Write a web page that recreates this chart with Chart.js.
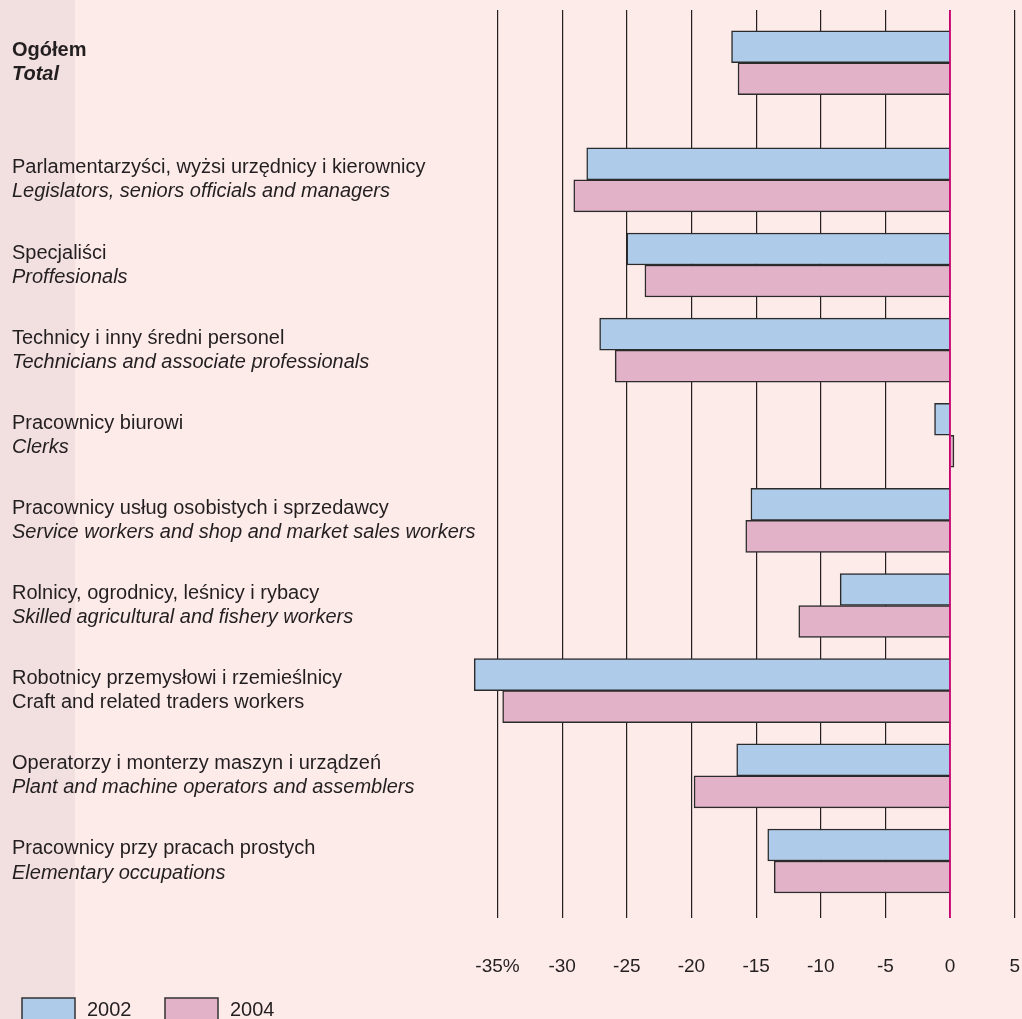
<!DOCTYPE html>
<html>
<head>
<meta charset="utf-8">
<script src="https://cdn.jsdelivr.net/npm/chart.js@4"></script>
<style>
  html, body { margin: 0; padding: 0; background: #fdebea; }
  canvas { display: block; }
</style>
</head>
<body>
<canvas id="chart" width="1022" height="1019"></canvas>
<script>
// occupations (Polish label, English label) and change in % for two years
const categoriesPl = [
  "Ogółem",
  "Parlamentarzyści, wyżsi urzędnicy i kierownicy",
  "Specjaliści",
  "Technicy i inny średni personel",
  "Pracownicy biurowi",
  "Pracownicy usług osobistych i sprzedawcy",
  "Rolnicy, ogrodnicy, leśnicy i rybacy",
  "Robotnicy przemysłowi i rzemieślnicy",
  "Operatorzy i monterzy maszyn i urządzeń",
  "Pracownicy przy pracach prostych"
];
const categoriesEn = [
  "Total",
  "Legislators, seniors officials and managers",
  "Proffesionals",
  "Technicians and associate professionals",
  "Clerks",
  "Service workers and shop and market sales workers",
  "Skilled agricultural and fishery workers",
  "Craft and related traders workers",
  "Plant and machine operators and assemblers",
  "Elementary occupations"
];
const years = ["2002", "2004"];
const values2002 = [-16.9, -28.1, -25.0, -27.1, -1.2, -15.4, -8.5, -36.8, -16.5, -14.1];
const values2004 = [-16.4, -29.1, -23.6, -25.9, 0.3, -15.8, -11.7, -34.6, -19.8, -13.6];
const xTicks = [-35, -30, -25, -20, -15, -10, -5, 0, 5];

const FONT = "'Liberation Sans', Arial, sans-serif";
const INK = "#231f20";
const colors = ["#aecbe9", "#e2b3c8"];
const zeroColor = "#c8006e";

// the "Total" row sits a little apart from the rest
const rowPos = categoriesPl.map((_, i) => (i === 0 ? 0 : i + 0.375));
const uprightEn = new Set([7]); // this English line is not italic in the source

const pageBg = {
  id: "pageBg",
  beforeDraw(chart) {
    const { ctx, width, height } = chart;
    ctx.save();
    ctx.fillStyle = "#fdebea";
    ctx.fillRect(0, 0, width, height);
    ctx.fillStyle = "#f2dfdf";
    ctx.fillRect(0, 0, 75, height);
    ctx.restore();
  }
};

const zeroLine = {
  id: "zeroLine",
  afterDatasetsDraw(chart) {
    const { ctx, chartArea, scales } = chart;
    const x = scales.x.getPixelForValue(0);
    ctx.save();
    ctx.strokeStyle = zeroColor;
    ctx.lineWidth = 1.6;
    ctx.beginPath();
    ctx.moveTo(x, chartArea.top);
    ctx.lineTo(x, chartArea.bottom);
    ctx.stroke();
    ctx.restore();
  }
};

const rowLabels = {
  id: "rowLabels",
  afterDraw(chart) {
    const { ctx, scales } = chart;
    ctx.save();
    ctx.fillStyle = INK;
    ctx.textBaseline = "middle";
    ctx.textAlign = "left";
    rowPos.forEach((p, i) => {
      const y = scales.y.getPixelForValue(p);
      ctx.font = (i === 0 ? "bold " : "") + "20px " + FONT;
      ctx.fillText(categoriesPl[i], 12, y - 12);
      ctx.font = (i === 0 ? "italic bold " : uprightEn.has(i) ? "" : "italic ") + "20px " + FONT;
      ctx.fillText(categoriesEn[i], 12, y + 12);
    });
    ctx.restore();
  }
};

const boxLegend = {
  id: "boxLegend",
  afterDraw(chart) {
    const { ctx } = chart;
    const spots = [22, 165];
    ctx.save();
    ctx.font = "20px " + FONT;
    ctx.textBaseline = "middle";
    chart.data.datasets.forEach((ds, i) => {
      const x = spots[i];
      ctx.fillStyle = ds.backgroundColor;
      ctx.fillRect(x, 998, 53, 24);
      ctx.strokeStyle = "#333";
      ctx.lineWidth = 1.5;
      ctx.strokeRect(x, 998, 53, 24);
      ctx.fillStyle = INK;
      ctx.fillText(ds.label, x + 65, 1010);
    });
    ctx.restore();
  }
};

new Chart(document.getElementById("chart"), {
  type: "bar",
  data: {
    datasets: [values2002, values2004].map((vals, d) => ({
      label: years[d],
      data: vals.map((v, i) => ({ x: v, y: rowPos[i] })),
      backgroundColor: colors[d],
      borderColor: "#2b2b2b",
      borderWidth: 1.5,
      barThickness: 32,
      clip: false
    }))
  },
  options: {
    indexAxis: "y",
    responsive: false,
    animation: false,
    layout: { padding: { top: 10, right: 7, left: 0, bottom: 0 } },
    plugins: { legend: { display: false }, tooltip: { enabled: false } },
    scales: {
      x: {
        type: "linear",
        position: "bottom",
        min: -35,
        max: 5,
        afterBuildTicks: (s) => { s.ticks = xTicks.map((v) => ({ value: v })); },
        afterFit: (s) => { s.height = 101; },
        border: { display: false },
        grid: {
          drawTicks: true,
          tickLength: 35,
          tickColor: "rgba(0,0,0,0)",
          lineWidth: 1.2,
          color: (c) => (c.tick && c.tick.value === 0 ? zeroColor : INK)
        },
        ticks: {
          padding: 2,
          color: INK,
          font: { family: FONT, size: 19 },
          callback: (v) => (v === -35 ? "-35%" : String(v))
        }
      },
      y: {
        type: "linear",
        reverse: true,
        offset: false,
        min: -0.62,
        max: 10.045,
        afterFit: (s) => { s.width = 497.5; },
        border: { display: false },
        grid: { display: false, offset: false },
        ticks: { display: false }
      }
    }
  },
  plugins: [pageBg, zeroLine, rowLabels, boxLegend]
});
</script>
</body>
</html>
